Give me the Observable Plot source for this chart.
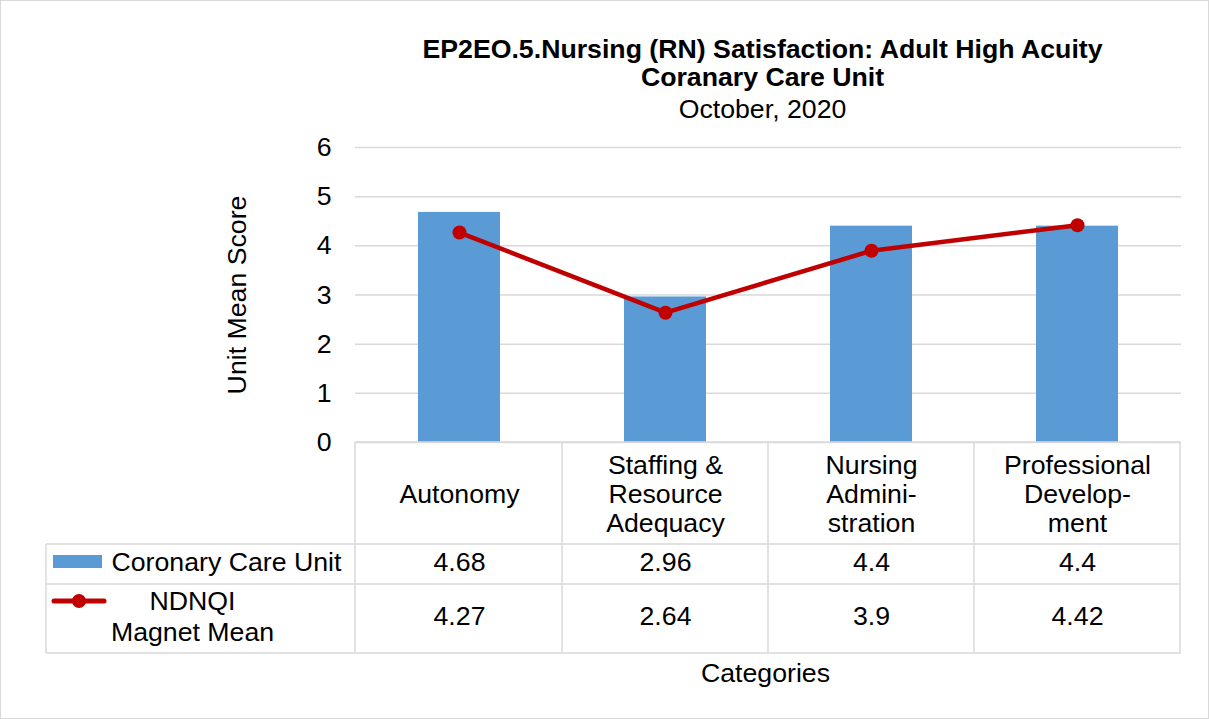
<!DOCTYPE html>
<html>
<head>
<meta charset="utf-8">
<script src="https://cdn.jsdelivr.net/npm/d3@7"></script>
<script src="https://cdn.jsdelivr.net/npm/@observablehq/plot@0.6"></script>
<style>
html, body { margin: 0; padding: 0; background: #fff; }
#chart svg { display: block; outline: 1px solid #d9d9d9; outline-offset: -1px; }
</style>
</head>
<body>
<div id="chart"></div>
<script>
// ---- data ----
const categories = ["Autonomy", "Staffing & Resource Adequacy", "Nursing Administration", "Professional Development"];
const headerLabels = ["Autonomy", "Staffing &\nResource\nAdequacy", "Nursing\nAdmini-\nstration", "Professional\nDevelop-\nment"];
const ccuValues = [4.68, 2.96, 4.4, 4.4];
const ndnqiValues = [4.27, 2.64, 3.9, 4.42];
const seriesNames = ["Coronary Care Unit", "NDNQI\nMagnet Mean"];
const titleLines = ["EP2EO.5.Nursing (RN) Satisfaction: Adult High Acuity", "Coranary Care Unit", "October, 2020"];
const yLabel = "Unit Mean Score";
const xLabel = "Categories";

const data = categories.map((c, i) => ({cat: c, header: headerLabels[i], ccu: ccuValues[i], ndnqi: ndnqiValues[i]}));

const FS = 26.7;
const BLUE = "#5b9bd5", RED = "#c00000", GRID = "#d9d9d9";

// table grid + legend swatches (decoration, positioned from the x scale)
function tableGrid(index, scales, values, dims) {
  const x = scales.x;
  const step = x.step(), bw = x.bandwidth();
  const left = dims.marginLeft, right = dims.width - dims.marginRight;
  const y0 = dims.height - dims.marginBottom;
  const r1 = y0 + 102, r2 = y0 + 142, r3 = y0 + 211;
  const tableLeft = 46;
  const g = d3.create("svg:g");
  const bounds = [left, ...categories.map(c => x(c) - (step - bw) / 2 + step)];
  const line = (x1, y1, x2, y2) => g.append("line").attr("x1", x1).attr("y1", y1).attr("x2", x2).attr("y2", y2)
    .attr("stroke", GRID).attr("stroke-width", 1.5);
  bounds.forEach(b => line(b, y0, b, r3));
  line(tableLeft, r1, tableLeft, r3);
  [r1, r2, r3].forEach(r => line(tableLeft, r, right, r));
  line(left, y0, right, y0);
  // legend swatches
  g.append("rect").attr("x", 53).attr("y", y0 + 113).attr("width", 49).attr("height", 13).attr("fill", BLUE);
  g.append("line").attr("x1", 54).attr("x2", 104).attr("y1", y0 + 159).attr("y2", y0 + 159)
    .attr("stroke", RED).attr("stroke-width", 5).attr("stroke-linecap", "round");
  g.append("circle").attr("cx", 79).attr("cy", y0 + 159).attr("r", 7).attr("fill", RED);
  return g.node();
}

const T = {fontSize: FS, fill: "#000", lineAnchor: "middle"};

const chart = Plot.plot({
  width: 1209,
  height: 719,
  marginTop: 147,
  marginBottom: 277,
  marginLeft: 355,
  marginRight: 28,
  style: {fontFamily: "'Liberation Sans', Arial, sans-serif", fontSize: FS + "px", color: "#000", background: "#fff"},
  x: {domain: categories, axis: null, paddingInner: 0.6, paddingOuter: 0.3},
  y: {domain: [0, 6], ticks: 6, tickSize: 0, tickPadding: 24, label: null},
  marks: [
    Plot.ruleY(d3.range(0, 7), {stroke: GRID, strokeWidth: 1.5}),
    Plot.barY(data, {x: "cat", y: "ccu", fill: BLUE}),
    Plot.line(data, {x: "cat", y: "ndnqi", stroke: RED, strokeWidth: 4.5}),
    Plot.dot(data, {x: "cat", y: "ndnqi", r: 7, fill: RED}),
    tableGrid,
    // table header
    Plot.text(data, {...T, x: "cat", text: "header", frameAnchor: "bottom", dy: 51, lineHeight: 1.086}),
    // table values
    Plot.text(data, {...T, x: "cat", text: d => String(d.ccu), frameAnchor: "bottom", dy: 120}),
    Plot.text(data, {...T, x: "cat", text: d => String(d.ndnqi), frameAnchor: "bottom", dy: 174}),
    // series names
    Plot.text([seriesNames[0]], {...T, text: d => d, frameAnchor: "bottom-left", dx: -244, dy: 120, textAnchor: "start"}),
    Plot.text([seriesNames[1]], {...T, text: d => d, frameAnchor: "bottom-left", dx: -163, dy: 173.5, textAnchor: "middle", lineHeight: 1.16}),
    // axis titles
    Plot.text([yLabel], {...T, text: d => d, frameAnchor: "left", dx: -118, rotate: -90, textAnchor: "middle"}),
    Plot.text([xLabel], {...T, text: d => d, frameAnchor: "bottom", dy: 231, dx: -3}),
    // titles
    Plot.text([titleLines[0]], {...T, text: d => d, frameAnchor: "top", dx: -6, dy: -98, fontWeight: "bold"}),
    Plot.text([titleLines[1]], {...T, text: d => d, frameAnchor: "top", dx: -6, dy: -70, fontWeight: "bold"}),
    Plot.text([titleLines[2]], {...T, text: d => d, frameAnchor: "top", dx: -6, dy: -38})
  ]
});
document.getElementById("chart").appendChild(chart);
</script>
</body>
</html>
